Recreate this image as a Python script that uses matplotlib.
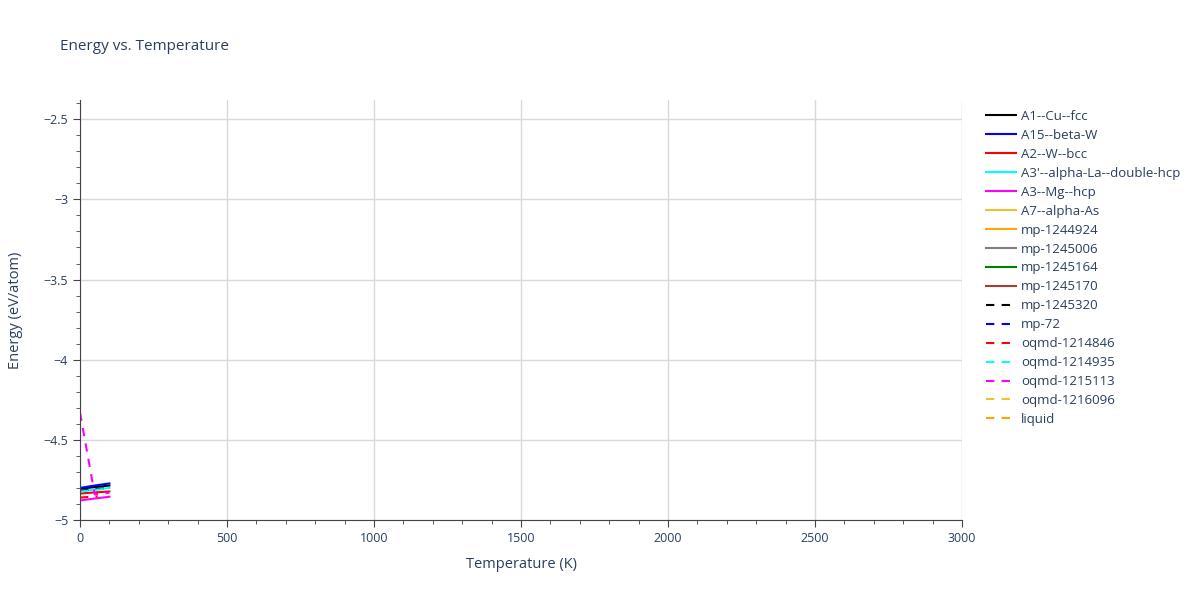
import matplotlib
matplotlib.use("Agg")
import matplotlib.pyplot as plt
from matplotlib.ticker import MultipleLocator, FuncFormatter

# temperatures (K) and energies (eV/atom)
temps = [0, 50, 100]
a1_cu_fcc = [-4.805, -4.795, -4.785]
a15_beta_w = [-4.80, -4.785, -4.772]
a2_w_bcc = [-4.835, -4.828, -4.822]
a3p_alpha_la = [-4.82, -4.81, -4.80]
a3_mg_hcp = [-4.878, -4.866, -4.855]
mp_1245320 = [-4.818, -4.808, -4.80]
oqmd_1214846_t = [0, 60]
oqmd_1214846 = [-4.86, -4.852]
oqmd_1214935 = [-4.823, -4.812, -4.803]
oqmd_1215113 = [-4.33, -4.84, -4.83]

series = [
    ("A1--Cu--fcc", temps, a1_cu_fcc, "black", "-"),
    ("A15--beta-W", temps, a15_beta_w, "blue", "-"),
    ("A2--W--bcc", temps, a2_w_bcc, "red", "-"),
    ("A3'--alpha-La--double-hcp", temps, a3p_alpha_la, "cyan", "-"),
    ("A3--Mg--hcp", temps, a3_mg_hcp, "magenta", "-"),
    ("A7--alpha-As", [], [], "#f0c030", "-"),
    ("mp-1244924", [], [], "orange", "-"),
    ("mp-1245006", [], [], "gray", "-"),
    ("mp-1245164", [], [], "green", "-"),
    ("mp-1245170", [], [], "#a83c3c", "-"),
    ("mp-1245320", temps, mp_1245320, "black", "--"),
    ("mp-72", [], [], "blue", "--"),
    ("oqmd-1214846", oqmd_1214846_t, oqmd_1214846, "red", "--"),
    ("oqmd-1214935", temps, oqmd_1214935, "cyan", "--"),
    ("oqmd-1215113", temps, oqmd_1215113, "magenta", "--"),
    ("oqmd-1216096", [], [], "#f0c030", "--"),
    ("liquid", [], [], "orange", "--"),
]

txt = "#2a3f5f"
plt.rcParams["font.family"] = ["Open Sans", "DejaVu Sans"]

fig = plt.figure(figsize=(12, 6), dpi=100)
ax = fig.add_axes([80 / 1200, 80 / 600, 882 / 1200, 420 / 600])

for name, x, y, c, ls in series:
    if ls == "--":
        ax.plot(x, y, color=c, lw=1.5, dashes=(4, 3.5), label=name)
    else:
        ax.plot(x, y, color=c, lw=1.5, label=name)

ax.set_xlim(0, 3000)
ax.set_ylim(-5.0, -2.38)
ax.xaxis.set_major_locator(MultipleLocator(500))
ax.xaxis.set_minor_locator(MultipleLocator(100))
ax.yaxis.set_major_locator(MultipleLocator(0.5))
ax.yaxis.set_minor_locator(MultipleLocator(0.1))
ax.yaxis.set_major_formatter(FuncFormatter(lambda v, p: ("%g" % v).replace("-", "\u2212")))
ax.grid(True, which="major", color="#d9d9d9", lw=1)
ax.set_axisbelow(True)
for s in ["top", "right"]:
    ax.spines[s].set_visible(False)
for s in ["left", "bottom"]:
    ax.spines[s].set_color("#444444")
ax.tick_params(which="major", length=5, color="#444444", labelcolor=txt, labelsize=9)
ax.tick_params(which="minor", length=3, color="#444444")

ax.set_xlabel("Temperature (K)", color=txt, fontsize=10.5, labelpad=9)
ax.set_ylabel("Energy (eV/atom)", color=txt, fontsize=10.5, labelpad=15)
fig.text(60 / 1200, 1 - 47 / 600, "Energy vs. Temperature", color=txt, fontsize=11, va="center")

fig.legend(loc="upper left", bbox_to_anchor=(986 / 1200, 1 - 110 / 600), frameon=False,
           fontsize=9.5, handlelength=2.27, labelspacing=0.45, labelcolor=txt,
           handletextpad=0.38, borderpad=0, borderaxespad=0)

fig.savefig("out.png", dpi=100, facecolor="white")
